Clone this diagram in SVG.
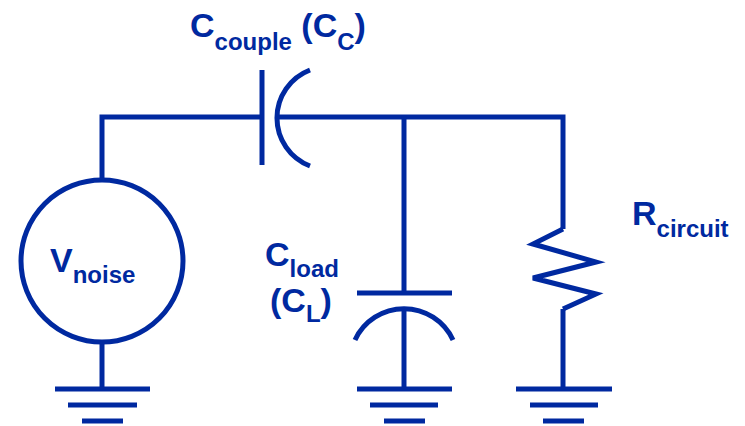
<svg xmlns="http://www.w3.org/2000/svg" width="745" height="426" viewBox="0 0 745 426">
<style>
.w{fill:none;stroke:#0029A0;stroke-width:5;stroke-linejoin:miter;stroke-linecap:butt}
.t{font-family:"Liberation Sans",Arial,sans-serif;font-weight:bold;font-size:34px;fill:#0029A0}
.s{font-size:24px}
</style>
<rect width="745" height="426" fill="#fff"/>
<g id="connectors">
<path class="w" d="M262,117 H102 V180"/>
<path class="w" d="M277,117 H563 V229"/>
<path class="w" d="M404,117 V293"/>
<path class="w" d="M404,309 V389"/>
<path class="w" d="M563,309 V389"/>
<path class="w" d="M102,342 V389"/>
</g>
<g id="vnoise">
<circle class="w" cx="102" cy="261" r="81"/>
<text class="t" x="50" y="272">V<tspan class="s" dy="11">noise</tspan></text>
</g>
<g id="ccouple">
<path class="w" d="M262,70 V165"/>
<path class="w" d="M310,70 A51.4,51.4 0 0 0 310,166"/>
<text class="t" x="190" y="37">C<tspan class="s" dy="13">couple</tspan><tspan dy="-13"> (C</tspan><tspan class="s" dy="13">C</tspan><tspan dy="-13">)</tspan></text>
</g>
<g id="cload">
<path class="w" d="M357,293 H452"/>
<path class="w" d="M355,340 A54,54 0 0 1 453,340"/>
<text class="t" x="265" y="266">C<tspan class="s" dy="11">load</tspan></text>
<text class="t" x="270" y="312">(C<tspan class="s" dy="10">L</tspan><tspan dy="-10">)</tspan></text>
</g>
<g id="rcircuit">
<path class="w" d="M563,229 L533,244 L596,262 L533,278 L596,294 L563,309"/>
<text class="t" x="632" y="225">R<tspan class="s" dy="12">circuit</tspan></text>
</g>
<g id="ground1">
<path class="w" d="M55,389 H150 M68,405 H137 M82,421 H123"/>
</g>
<g id="ground2">
<path class="w" d="M357,389 H452 M370,405 H438 M384,421 H425"/>
</g>
<g id="ground3">
<path class="w" d="M516,389 H612 M530,405 H598 M543,421 H584"/>
</g>
</svg>
